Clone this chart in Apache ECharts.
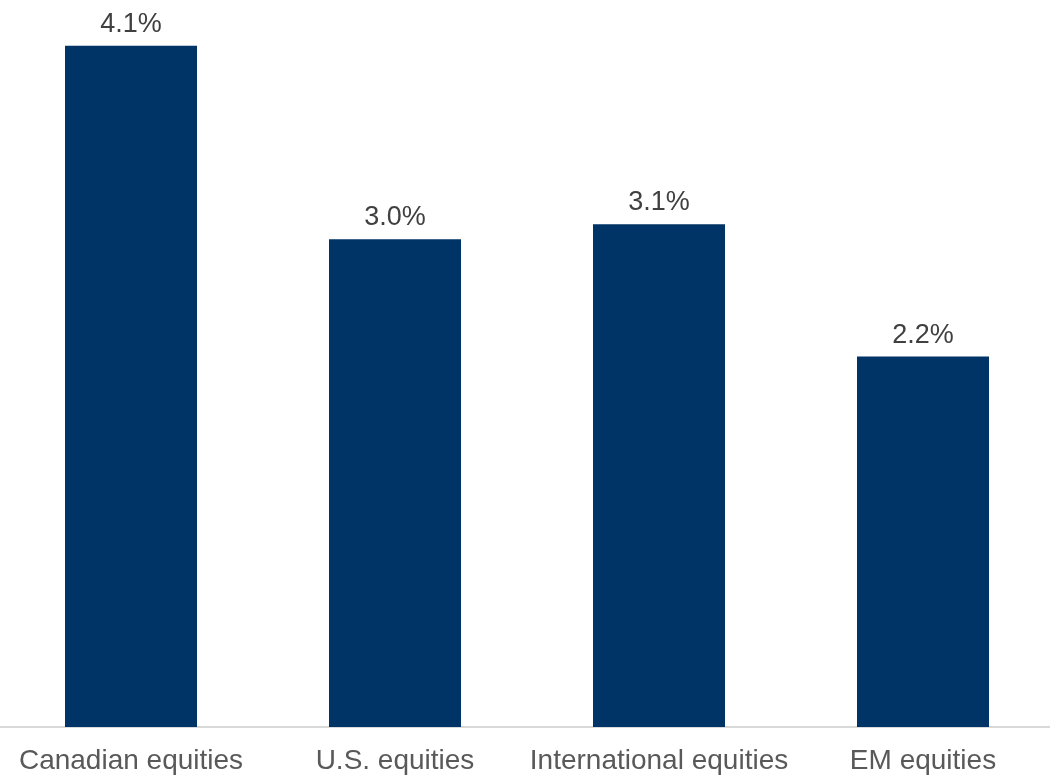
<!DOCTYPE html>
<html>
<head>
<meta charset="utf-8">
<script src="https://cdn.jsdelivr.net/npm/echarts@6/dist/echarts.min.js"></script>
<style>
  html, body { margin: 0; padding: 0; background: #ffffff; }
  #chart { width: 1050px; height: 778px; }
</style>
</head>
<body>
<div id="chart"></div>
<script type="text/javascript">
	// categories, values and value labels
	var categories = ['Canadian equities', 'U.S. equities', 'International equities', 'EM equities'];
	var values = [4.12, 2.95, 3.04, 2.24];
	var valueLabels = ['4.1%', '3.0%', '3.1%', '2.2%'];

	var chart = echarts.init(document.getElementById('chart'));
	var option = {
		animation: false,
		grid: {
			left: -1,
			width: 1056,
			top: 16,
			bottom: 51,
			outerBoundsMode: 'none'
		},
		xAxis: {
			type: 'category',
			data: categories,
			axisTick: { show: false },
			axisLine: {
				lineStyle: { color: '#d9d9d9', width: 2 }
			},
			axisLabel: {
				color: '#595959',
				fontFamily: 'Liberation Sans, Arial, sans-serif',
				fontSize: 28,
				margin: 20,
				interval: 0
			}
		},
		yAxis: {
			type: 'value',
			min: 0,
			max: 4.3,
			show: false,
			splitLine: { show: false }
		},
		series: [
			{
				type: 'bar',
				data: values,
				barWidth: '50%',
				itemStyle: { color: '#003366' },
				label: {
					show: true,
					position: 'top',
					distance: 8,
					color: '#404040',
					fontFamily: 'Liberation Sans, Arial, sans-serif',
					fontSize: 27,
					formatter: function (p) { return valueLabels[p.dataIndex]; }
				}
			}
		]
	};
	chart.setOption(option);
</script>
</body>
</html>
